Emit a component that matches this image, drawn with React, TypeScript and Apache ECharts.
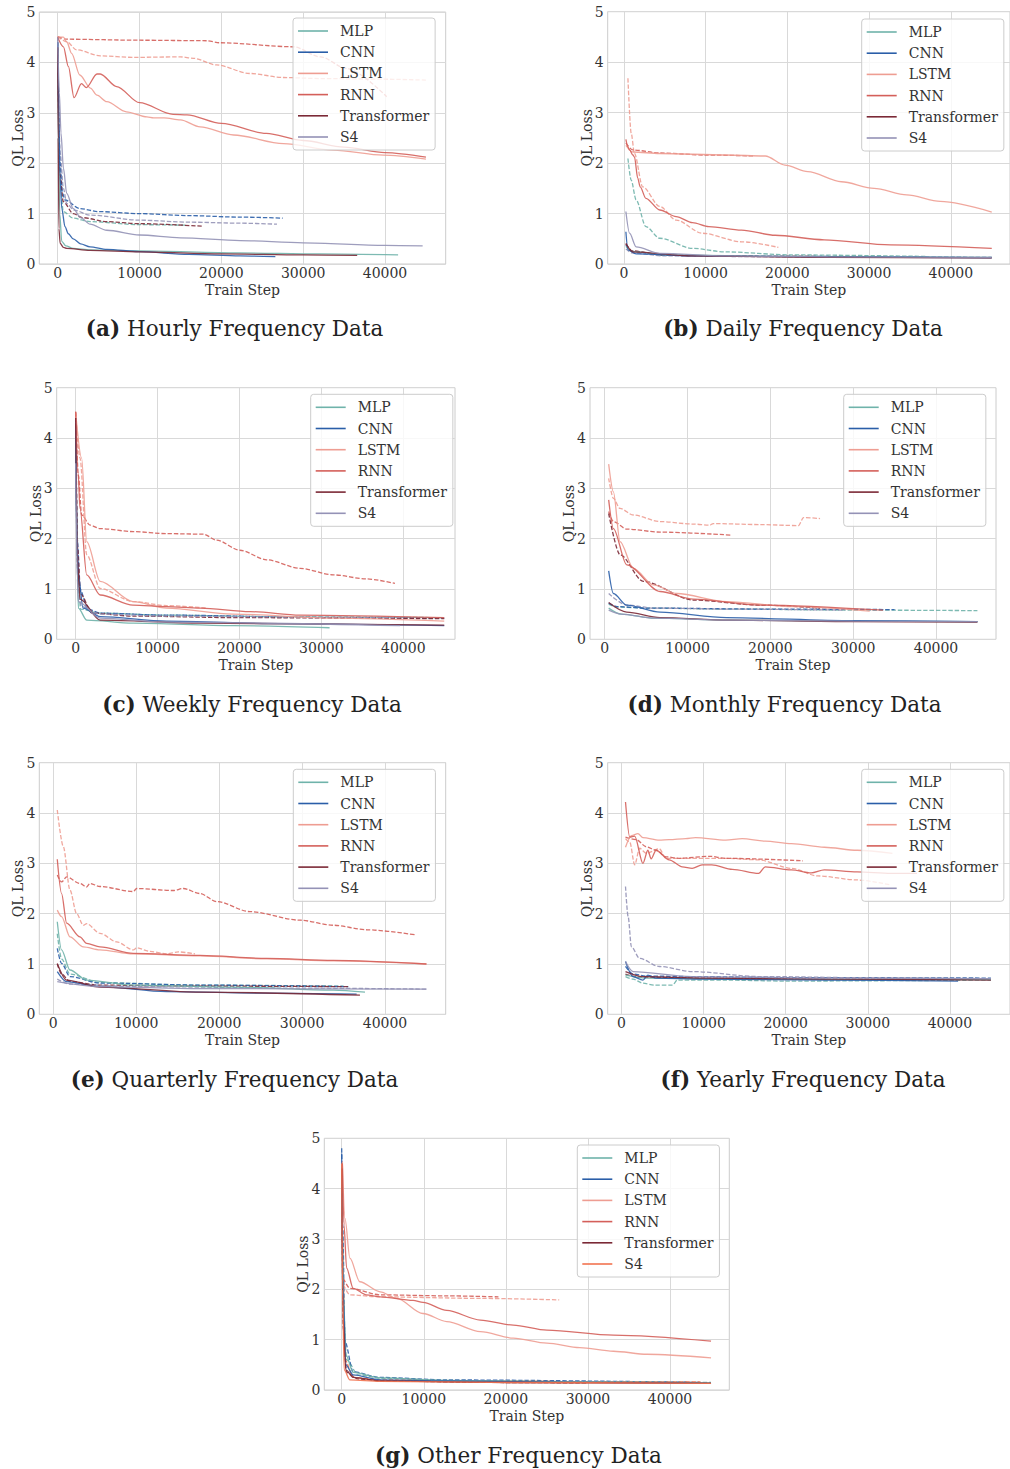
import React, { useEffect, useRef } from "react";
import * as echarts from "echarts";

type Pt = [number, number];

const models = ["MLP", "CNN", "LSTM", "RNN", "Transformer", "S4"];
const xTicks = [0, 10000, 20000, 30000, 40000];

// ---------- (a) Hourly ----------
const aMlp: Pt[] = [[0, 4.3], [100, 2.5], [250, 1.0], [490, 0.45], [1000, 0.36], [1900, 0.31], [4000, 0.28], [10000, 0.26], [22000, 0.22], [32000, 0.2], [41600, 0.18]];
const aCnn: Pt[] = [[0, 4.4], [150, 2.8], [280, 1.73], [500, 1.1], [890, 0.74], [1300, 0.6], [1900, 0.5], [2800, 0.4], [3950, 0.34], [6000, 0.29], [10000, 0.245], [16000, 0.19], [22300, 0.16], [26600, 0.145]];
const aLstm: Pt[] = [[0, 4.5], [700, 4.5], [1100, 4.41], [1700, 4.18], [2700, 3.75], [4000, 3.49], [4800, 3.35], [6000, 3.22], [8400, 3.02], [10900, 2.92], [11700, 2.9], [13000, 2.9], [15000, 2.86], [17400, 2.72], [21500, 2.56], [27600, 2.39], [33700, 2.26], [39800, 2.16], [45000, 2.08]];
const aRnn: Pt[] = [[0, 4.5], [700, 4.31], [1300, 3.92], [2000, 3.3], [2900, 3.58], [3500, 3.5], [4800, 3.77], [5200, 3.77], [7200, 3.52], [10000, 3.2], [14100, 2.97], [15800, 2.96], [20000, 2.79], [25500, 2.59], [30000, 2.45], [35000, 2.32], [40000, 2.21], [45000, 2.12]];
const aTransformer: Pt[] = [[0, 4.3], [60, 2.5], [150, 0.7], [300, 0.41], [700, 0.33], [1100, 0.31], [3950, 0.27], [10000, 0.24], [20000, 0.2], [30000, 0.18], [36600, 0.17]];
const aS4: Pt[] = [[0, 4.5], [200, 3.4], [400, 2.6], [700, 1.9], [1100, 1.4], [1900, 1.1], [2800, 0.92], [3950, 0.79], [6000, 0.67], [10000, 0.575], [15000, 0.52], [22300, 0.465], [30000, 0.42], [40000, 0.37], [44600, 0.36]];
const aMlpD: Pt[] = [[0, 4.4], [250, 1.8], [680, 1.04], [1900, 0.91], [3950, 0.84], [10000, 0.78], [15800, 0.77]];
const aCnnD: Pt[] = [[0, 4.4], [300, 2.0], [600, 1.4], [890, 1.27], [2700, 1.1], [5000, 1.04], [10000, 1.0], [16000, 0.96], [22300, 0.93], [27500, 0.91]];
const aLstmD: Pt[] = [[0, 4.51], [1100, 4.41], [2300, 4.25], [5200, 4.13], [9250, 4.1], [15000, 4.11], [16600, 4.08], [19400, 3.95], [23500, 3.78], [27600, 3.7], [32000, 3.68], [38000, 3.67], [45000, 3.65]];
const aRnnD: Pt[] = [[0, 4.51], [1100, 4.46], [10000, 4.44], [18200, 4.43], [19800, 4.39], [28800, 4.31], [32100, 4.11], [35300, 3.88], [40200, 3.32]];
const aTransformerD: Pt[] = [[0, 4.3], [250, 1.8], [680, 1.24], [1900, 1.0], [3000, 0.92], [6000, 0.84], [10000, 0.8], [17600, 0.75]];
const aS4D: Pt[] = [[0, 4.5], [300, 2.2], [700, 1.5], [1100, 1.2], [2000, 1.07], [3950, 0.97], [10000, 0.87], [16000, 0.83], [22300, 0.81], [26800, 0.79]];

// ---------- (b) Daily ----------
const bMlp: Pt[] = [[250, 0.35], [1000, 0.25], [5000, 0.18], [20000, 0.15], [45000, 0.13]];
const bCnn: Pt[] = [[250, 0.64], [500, 0.28], [1500, 0.2], [8400, 0.16], [25000, 0.14], [45000, 0.12]];
const bLstm: Pt[] = [[250, 2.35], [1100, 2.22], [4400, 2.19], [12500, 2.16], [17300, 2.14], [19700, 1.96], [22500, 1.83], [26600, 1.63], [30600, 1.5], [34600, 1.37], [38700, 1.24], [45000, 1.03]];
const bRnn: Pt[] = [[250, 2.47], [500, 2.32], [700, 2.26], [1100, 2.16], [1300, 2.12], [1700, 1.7], [2000, 1.53], [2700, 1.3], [4400, 1.07], [6400, 0.94], [8400, 0.82], [10400, 0.74], [14400, 0.67], [18500, 0.57], [24500, 0.48], [32600, 0.38], [45000, 0.31]];
const bTransformer: Pt[] = [[250, 0.41], [1100, 0.24], [8400, 0.16], [25000, 0.13], [45000, 0.12]];
const bS4: Pt[] = [[250, 1.04], [700, 0.61], [1500, 0.34], [4400, 0.21], [12400, 0.16], [25000, 0.14], [45000, 0.13]];
const bMlpD: Pt[] = [[500, 2.09], [900, 1.66], [1500, 1.27], [2700, 0.74], [4400, 0.51], [8400, 0.31], [12400, 0.24], [20500, 0.18], [37000, 0.15]];
const bCnnD: Pt[] = [[250, 0.38], [1000, 0.25], [5000, 0.17], [20000, 0.15], [45000, 0.13]];
const bLstmD: Pt[] = [[500, 3.68], [900, 2.59], [1300, 2.19], [2300, 1.53], [4400, 1.14], [6400, 0.87], [9600, 0.61], [14400, 0.44], [18900, 0.33]];
const bRnnD: Pt[] = [[250, 2.4], [1100, 2.26], [4400, 2.2], [10000, 2.16], [16000, 2.14]];
const bTransformerD: Pt[] = [[250, 0.4], [1000, 0.26], [5000, 0.17], [20000, 0.15], [30000, 0.14]];
const bS4D: Pt[] = [[250, 0.3], [1000, 0.22], [5000, 0.16], [20000, 0.14], [26000, 0.13]];

// ---------- (c) Weekly ----------
const cMlp: Pt[] = [[0, 4.0], [200, 1.5], [330, 0.62], [1350, 0.38], [7000, 0.32], [19200, 0.27], [31000, 0.23]];
const cCnn: Pt[] = [[0, 4.2], [150, 2.0], [330, 1.28], [900, 0.62], [3000, 0.45], [11100, 0.36], [25000, 0.31], [45000, 0.27]];
const cLstm: Pt[] = [[0, 4.5], [730, 3.6], [1350, 1.94], [3000, 1.15], [7000, 0.75], [11100, 0.62], [19200, 0.5], [31500, 0.42], [45000, 0.36]];
const cRnn: Pt[] = [[0, 4.52], [300, 3.3], [530, 2.6], [1350, 1.28], [3000, 0.88], [7000, 0.68], [11100, 0.65], [15200, 0.62], [21300, 0.55], [27400, 0.48], [45000, 0.43]];
const cTransformer: Pt[] = [[0, 4.4], [200, 1.6], [530, 0.8], [3000, 0.38], [15200, 0.32], [45000, 0.28]];
const cS4: Pt[] = [[0, 3.5], [200, 1.2], [330, 0.75], [3000, 0.42], [11100, 0.34], [39600, 0.27]];
const cMlpD: Pt[] = [[0, 4.0], [300, 1.2], [600, 0.6], [3000, 0.52], [11000, 0.48], [25000, 0.45], [45000, 0.43]];
const cCnnD: Pt[] = [[0, 4.3], [200, 2.0], [500, 1.0], [1500, 0.6], [3000, 0.52], [11100, 0.48], [31500, 0.43], [45000, 0.42]];
const cLstmD: Pt[] = [[0, 4.5], [530, 3.6], [1350, 1.68], [3000, 1.01], [7000, 0.75], [11100, 0.67], [16000, 0.62]];
const cRnnD: Pt[] = [[0, 4.52], [330, 3.26], [730, 2.47], [1750, 2.27], [2970, 2.2], [7040, 2.14], [11110, 2.1], [15590, 2.09], [17210, 1.97], [20060, 1.77], [23320, 1.58], [27390, 1.41], [31450, 1.28], [35520, 1.2], [38980, 1.11]];
const cTransformerD: Pt[] = [[0, 4.4], [250, 1.8], [600, 0.9], [2000, 0.52], [7000, 0.46], [20000, 0.43], [45000, 0.41]];
const cS4D: Pt[] = [[0, 3.5], [300, 1.0], [700, 0.65], [3000, 0.5], [11000, 0.46], [30000, 0.44], [40000, 0.43]];

// ---------- (d) Monthly ----------
const dMlp: Pt[] = [[480, 0.62], [2000, 0.5], [6000, 0.42], [15000, 0.38], [30000, 0.36], [45000, 0.35]];
const dCnn: Pt[] = [[480, 1.36], [1050, 0.91], [2660, 0.68], [6680, 0.54], [14700, 0.43], [30000, 0.37], [45000, 0.35]];
const dLstm: Pt[] = [[480, 3.48], [1050, 2.93], [1850, 1.94], [3460, 1.41], [5880, 1.08], [8700, 0.91], [14700, 0.75], [22800, 0.65], [32000, 0.56]];
const dRnn: Pt[] = [[480, 2.77], [1050, 2.2], [2660, 1.48], [6680, 0.95], [10700, 0.8], [18750, 0.68], [33600, 0.58]];
const dTransformer: Pt[] = [[480, 0.73], [2660, 0.54], [6680, 0.43], [15000, 0.38], [30000, 0.35], [45000, 0.34]];
const dS4: Pt[] = [[480, 0.58], [2000, 0.5], [6000, 0.42], [15000, 0.38], [30000, 0.36], [45000, 0.35]];
const dMlpD: Pt[] = [[480, 0.7], [1500, 0.64], [5000, 0.62], [15000, 0.6], [30000, 0.58], [45000, 0.57]];
const dCnnD: Pt[] = [[480, 0.72], [1500, 0.65], [5000, 0.62], [20000, 0.6], [35000, 0.59]];
const dLstmD: Pt[] = [[480, 3.2], [1050, 2.8], [1850, 2.6], [3460, 2.47], [6680, 2.34], [10700, 2.29], [12700, 2.27], [13100, 2.3], [18750, 2.28], [23400, 2.26], [24000, 2.42], [26000, 2.4]];
const dRnnD: Pt[] = [[480, 2.54], [1050, 2.34], [2660, 2.19], [6680, 2.13], [15300, 2.07]];
const dTransformerD: Pt[] = [[480, 2.5], [1850, 1.68], [4670, 1.15], [10700, 0.78], [18750, 0.68], [26000, 0.62]];
const dS4D: Pt[] = [[480, 0.91], [2660, 0.68], [6000, 0.62], [15000, 0.6], [29000, 0.58]];

// ---------- (e) Quarterly ----------
const eMlp: Pt[] = [[480, 1.84], [1000, 1.28], [2010, 0.88], [4020, 0.68], [9650, 0.58], [21710, 0.54], [33770, 0.48], [37590, 0.44]];
const eCnn: Pt[] = [[480, 0.85], [1610, 0.65], [5630, 0.55], [13670, 0.45], [25730, 0.42], [36580, 0.4]];
const eLstm: Pt[] = [[480, 2.07], [1000, 1.94], [2010, 1.54], [3620, 1.34], [5630, 1.28], [9650, 1.2], [17690, 1.16], [25730, 1.1], [33770, 1.06], [45000, 1.0]];
const eRnn: Pt[] = [[480, 3.08], [1000, 2.4], [1610, 1.81], [3220, 1.54], [4020, 1.41], [5630, 1.34], [9650, 1.21], [17690, 1.17], [25730, 1.11], [33770, 1.07], [45000, 1.0]];
const eTransformer: Pt[] = [[480, 1.01], [1610, 0.68], [5630, 0.54], [17690, 0.44], [36980, 0.38]];
const eS4: Pt[] = [[480, 0.65], [5630, 0.55], [17690, 0.51], [45000, 0.5]];
const eMlpD: Pt[] = [[480, 1.6], [1000, 1.1], [2010, 0.8], [5630, 0.63], [17690, 0.58], [35000, 0.56]];
const eCnnD: Pt[] = [[480, 1.31], [1000, 1.01], [2010, 0.75], [5630, 0.62], [17690, 0.58], [35580, 0.55]];
const eLstmD: Pt[] = [[480, 4.06], [1210, 3.33], [2010, 2.47], [2810, 2.0], [3620, 1.77], [4020, 1.8], [5630, 1.61], [7640, 1.44], [9650, 1.28], [10050, 1.32], [11660, 1.25], [13670, 1.2], [15080, 1.24], [17090, 1.2]];
const eRnnD: Pt[] = [[480, 2.77], [1000, 2.63], [1610, 2.73], [3220, 2.6], [4020, 2.53], [4420, 2.6], [5630, 2.54], [9650, 2.44], [10050, 2.5], [14470, 2.46], [15680, 2.5], [17690, 2.4], [19700, 2.24], [23720, 2.04], [29750, 1.87], [33770, 1.77], [37790, 1.68], [43620, 1.58]];
const eTransformerD: Pt[] = [[480, 1.0], [1000, 0.8], [2010, 0.65], [5630, 0.58], [17690, 0.56], [35580, 0.55]];
const eS4D: Pt[] = [[480, 0.7], [2000, 0.6], [10000, 0.55], [30000, 0.52], [45000, 0.5]];

// ---------- (f) Yearly ----------
const fMlp: Pt[] = [[480, 0.78], [3000, 0.72], [15000, 0.7], [30000, 0.69], [45000, 0.69]];
const fCnn: Pt[] = [[480, 1.05], [1400, 0.75], [2600, 0.68], [3200, 0.78], [4200, 0.72], [10000, 0.7], [25000, 0.68], [41000, 0.66]];
const fLstm: Pt[] = [[480, 3.32], [1200, 3.55], [2000, 3.59], [2600, 3.51], [4600, 3.46], [5800, 3.47], [7800, 3.49], [9000, 3.51], [12700, 3.46], [14700, 3.49], [17500, 3.44], [20700, 3.39], [24700, 3.32], [28700, 3.26], [33000, 3.2]];
const fRnn: Pt[] = [[480, 4.22], [1000, 3.52], [1600, 3.54], [2600, 3.0], [3200, 3.26], [3600, 3.09], [4200, 3.26], [5800, 3.07], [7400, 2.93], [8600, 2.9], [9800, 2.97], [11000, 2.97], [13500, 2.88], [16700, 2.8], [17500, 2.93], [20700, 2.87], [23100, 2.81], [24700, 2.87], [28700, 2.83], [32800, 2.8], [36000, 2.8]];
const fTransformer: Pt[] = [[480, 0.85], [2600, 0.75], [10000, 0.72], [25000, 0.7], [45000, 0.68]];
const fS4: Pt[] = [[480, 1.05], [1400, 0.85], [8600, 0.75], [25000, 0.72], [45000, 0.71]];
const fMlpD: Pt[] = [[480, 0.75], [1400, 0.7], [2600, 0.62], [4000, 0.58], [6200, 0.58], [6800, 0.68], [12700, 0.68], [20000, 0.66], [45000, 0.68]];
const fCnnD: Pt[] = [[480, 0.95], [1400, 0.8], [3000, 0.76], [8600, 0.75], [20000, 0.73], [45000, 0.72]];
const fLstmD: Pt[] = [[480, 3.49], [1000, 3.42], [1600, 2.97], [2200, 3.3], [3000, 3.2], [4600, 3.29], [5400, 3.1], [12700, 3.1], [16700, 3.07], [20700, 2.9], [23900, 2.75], [28700, 2.67], [32800, 2.57]];
const fRnnD: Pt[] = [[480, 3.52], [1800, 3.47], [3000, 3.33], [4200, 3.26], [5400, 3.13], [7000, 3.1], [10700, 3.14], [12700, 3.1], [22100, 3.05]];
const fTransformerD: Pt[] = [[480, 0.8], [2000, 0.74], [10000, 0.72], [25000, 0.7], [35000, 0.69]];
const fS4D: Pt[] = [[480, 2.54], [800, 1.94], [1200, 1.34], [2200, 1.11], [4600, 0.95], [8600, 0.85], [16700, 0.75], [32800, 0.72], [45000, 0.7]];

// ---------- (g) Other ----------
const gMlp: Pt[] = [[0, 4.5], [200, 2.0], [500, 0.7], [1400, 0.35], [4700, 0.24], [12800, 0.19], [30000, 0.16], [45000, 0.14]];
const gCnn: Pt[] = [[0, 4.7], [150, 2.0], [500, 0.5], [1400, 0.3], [4700, 0.2], [12800, 0.18], [30000, 0.15], [45000, 0.13]];
const gLstm: Pt[] = [[80, 4.54], [400, 3.41], [1000, 2.62], [2200, 2.15], [4700, 1.95], [6700, 1.82], [9900, 1.52], [12800, 1.36], [16900, 1.16], [20900, 1.03], [25000, 0.93], [29000, 0.84], [33100, 0.77], [37200, 0.71], [45000, 0.64]];
const gRnn: Pt[] = [[80, 4.5], [280, 3.28], [600, 2.42], [1400, 2.02], [3000, 1.89], [4700, 1.85], [8700, 1.78], [9900, 1.74], [12800, 1.58], [16900, 1.39], [20900, 1.29], [25000, 1.19], [33100, 1.09], [45000, 0.97]];
const gTransformer: Pt[] = [[0, 4.4], [150, 1.5], [500, 0.4], [1400, 0.25], [4700, 0.18], [18000, 0.15], [45000, 0.13]];
const gS4: Pt[] = [[0, 4.5], [100, 2.0], [300, 0.4], [1000, 0.2], [4700, 0.17], [18000, 0.15], [45000, 0.13]];
const gMlpD: Pt[] = [[0, 4.5], [250, 1.5], [600, 0.6], [2000, 0.3], [5000, 0.23], [15000, 0.18], [35000, 0.16], [45000, 0.15]];
const gCnnD: Pt[] = [[0, 4.8], [120, 3.28], [400, 0.96], [1400, 0.36], [4700, 0.25], [12800, 0.2], [43700, 0.15]];
const gLstmD: Pt[] = [[200, 2.09], [1000, 1.89], [4700, 1.85], [16900, 1.82], [26500, 1.79]];
const gRnnD: Pt[] = [[200, 2.22], [1000, 2.02], [4700, 1.89], [12800, 1.87], [19100, 1.85]];
const gTransformerD: Pt[] = [[0, 4.4], [200, 1.2], [600, 0.35], [2000, 0.22], [5000, 0.18], [18000, 0.15], [30000, 0.14]];
const gS4D: Pt[] = [[0, 4.5], [150, 2.5], [400, 0.6], [1400, 0.25], [4700, 0.2], [18000, 0.17], [43700, 0.16]];

const baseColors = ["#6fb3aa", "#2a5ea8", "#ee9d92", "#d45f5a", "#7b2936", "#9492b6"];
const otherColors = ["#6fb3aa", "#2a5ea8", "#ee9d92", "#d45f5a", "#7b2936", "#f27350"];

const panels = [
  { key: "a", label: "(a)", title: "Hourly Frequency Data", left: 39.3, top: 12, width: 406.4, height: 252, xMin: -2249, xMax: 47418, tx: 234.5, ty: 328, lx: 293, ly: 18, colors: baseColors,
    solid: [aMlp, aCnn, aLstm, aRnn, aTransformer, aS4], dashed: [aMlpD, aCnnD, aLstmD, aRnnD, aTransformerD, aS4D] },
  { key: "b", label: "(b)", title: "Daily Frequency Data", left: 607.7, top: 11.7, width: 406.3, height: 252.3, xMin: -1974, xMax: 47230, tx: 803, ty: 328, lx: 861.7, ly: 19, colors: baseColors,
    solid: [bMlp, bCnn, bLstm, bRnn, bTransformer, bS4], dashed: [bMlpD, bCnnD, bLstmD, bRnnD, bTransformerD, bS4D] },
  { key: "c", label: "(c)", title: "Weekly Frequency Data", left: 56.7, top: 387.7, width: 398.3, height: 251.6, xMin: -2316, xMax: 46313, tx: 252, ty: 704, lx: 310.7, ly: 394.3, colors: baseColors,
    solid: [cMlp, cCnn, cLstm, cRnn, cTransformer, cS4], dashed: [cMlpD, cCnnD, cLstmD, cRnnD, cTransformerD, cS4D] },
  { key: "d", label: "(d)", title: "Monthly Frequency Data", left: 590, top: 387.7, width: 406, height: 251.6, xMin: -1775, xMax: 47244, tx: 784.5, ty: 704, lx: 843.7, ly: 394.3, colors: baseColors,
    solid: [dMlp, dCnn, dLstm, dRnn, dTransformer, dS4], dashed: [dMlpD, dCnnD, dLstmD, dRnnD, dTransformerD, dS4D] },
  { key: "e", label: "(e)", title: "Quarterly Frequency Data", left: 39.3, top: 762.7, width: 406.4, height: 251.6, xMin: -1688, xMax: 47320, tx: 234.5, ty: 1079, lx: 293.3, ly: 769.3, colors: baseColors,
    solid: [eMlp, eCnn, eLstm, eRnn, eTransformer, eS4], dashed: [eMlpD, eCnnD, eLstmD, eRnnD, eTransformerD, eS4D] },
  { key: "f", label: "(f)", title: "Yearly Frequency Data", left: 607.7, top: 762.7, width: 406.3, height: 251.6, xMin: -1689, xMax: 47322, tx: 803, ty: 1079, lx: 861.7, ly: 769.3, colors: baseColors,
    solid: [fMlp, fCnn, fLstm, fRnn, fTransformer, fS4], dashed: [fMlpD, fCnnD, fLstmD, fRnnD, fTransformerD, fS4D] },
  { key: "g", label: "(g)", title: "Other Frequency Data", left: 324.3, top: 1138.3, width: 405, height: 251.7, xMin: -2120, xMax: 47225, tx: 518.5, ty: 1455, lx: 577.3, ly: 1145, colors: otherColors,
    solid: [gMlp, gCnn, gLstm, gRnn, gTransformer, gS4], dashed: [gMlpD, gCnnD, gLstmD, gRnnD, gTransformerD, gS4D] },
];

const FONT = "DejaVu Serif";
const TEXT = "#333333";

function buildOption() {
  const grid: any[] = [];
  const xAxis: any[] = [];
  const yAxis: any[] = [];
  const series: any[] = [];
  const legend: any[] = [];
  const graphic: any[] = [];

  panels.forEach((p, i) => {
    grid.push({
      left: p.left, top: p.top, width: p.width, height: p.height,
      show: true, borderColor: "#cccccc", borderWidth: 1, backgroundColor: "transparent", containLabel: false,
    });
    xAxis.push({
      type: "value", gridIndex: i, min: p.xMin, max: p.xMax,
      name: "Train Step", nameLocation: "middle", nameGap: 19, nameMoveOverlap: false,
      nameTextStyle: { fontFamily: FONT, fontSize: 14, lineHeight: 14, color: TEXT },
      axisLine: { show: false }, axisTick: { show: false, customValues: xTicks },
      axisLabel: { customValues: xTicks, formatter: (v: number) => String(v), fontFamily: FONT, fontSize: 14, lineHeight: 14, color: TEXT, margin: 2 },
      splitLine: { show: true, lineStyle: { color: "#d9d9d9", width: 1 } },
    });
    yAxis.push({
      type: "value", gridIndex: i, min: 0, max: 5, interval: 1,
      name: "QL Loss", nameLocation: "middle", nameGap: 14, nameMoveOverlap: false,
      nameTextStyle: { fontFamily: FONT, fontSize: 14, lineHeight: 14, color: TEXT },
      axisLine: { show: false }, axisTick: { show: false },
      axisLabel: { fontFamily: FONT, fontSize: 14, color: TEXT, margin: 4 },
      splitLine: { show: true, lineStyle: { color: "#d9d9d9", width: 1 } },
    });
    models.forEach((m, k) => {
      series.push({
        type: "line", name: `${p.key}:${m} val`, xAxisIndex: i, yAxisIndex: i,
        data: p.dashed[k], symbol: "none", showSymbol: false, silent: true, clip: true,
        smooth: 0.3, smoothMonotone: "x",
        lineStyle: { color: p.colors[k], width: 1.3, type: [4.4, 1.9], opacity: 0.9 },
        itemStyle: { color: p.colors[k] }, z: 2,
      });
    });
    models.forEach((m, k) => {
      series.push({
        type: "line", name: `${p.key}:${m}`, xAxisIndex: i, yAxisIndex: i,
        data: p.solid[k], symbol: "none", showSymbol: false, silent: true, clip: true,
        smooth: 0.3, smoothMonotone: "x",
        lineStyle: { color: p.colors[k], width: 1.3, type: "solid", opacity: 0.9 },
        itemStyle: { color: p.colors[k] }, z: 3,
      });
    });
    legend.push({
      data: models.map((m) => `${p.key}:${m}`),
      formatter: (n: string) => n.split(":")[1],
      left: p.lx, top: p.ly, orient: "vertical",
      icon: "rect", itemWidth: 30, itemHeight: 1.6, itemGap: 7.2,
      padding: [6, 6, 6, 5],
      backgroundColor: "rgba(255,255,255,0.8)", borderColor: "#cccccc", borderWidth: 1, borderRadius: 3,
      selectedMode: false, z: 10,
      textStyle: { fontFamily: FONT, fontSize: 14, lineHeight: 14, color: TEXT, padding: [0, 0, 0, 7] },
    });
    graphic.push({
      type: "text", x: p.tx, y: p.ty, silent: true,
      style: {
        text: `{b|${p.label}} ${p.title}`,
        align: "center", verticalAlign: "middle",
        fontFamily: FONT, fontSize: 21.5, fill: "#222222",
        rich: { b: { fontFamily: FONT, fontSize: 21.5, fontWeight: "bold", fill: "#222222" } },
      },
    });
  });

  return { animation: false, backgroundColor: "#ffffff", grid, xAxis, yAxis, series, legend, graphic };
}

export default function App() {
  const ref = useRef<HTMLDivElement>(null);
  useEffect(() => {
    if (!ref.current) return;
    const chart = echarts.init(ref.current, undefined, { renderer: "svg" });
    chart.setOption(buildOption() as any);
    return () => chart.dispose();
  }, []);
  return (
    <div
      ref={ref}
      style={{ position: "absolute", left: 0, top: 0, width: 1010, height: 1469, background: "#ffffff" }}
    />
  );
}
